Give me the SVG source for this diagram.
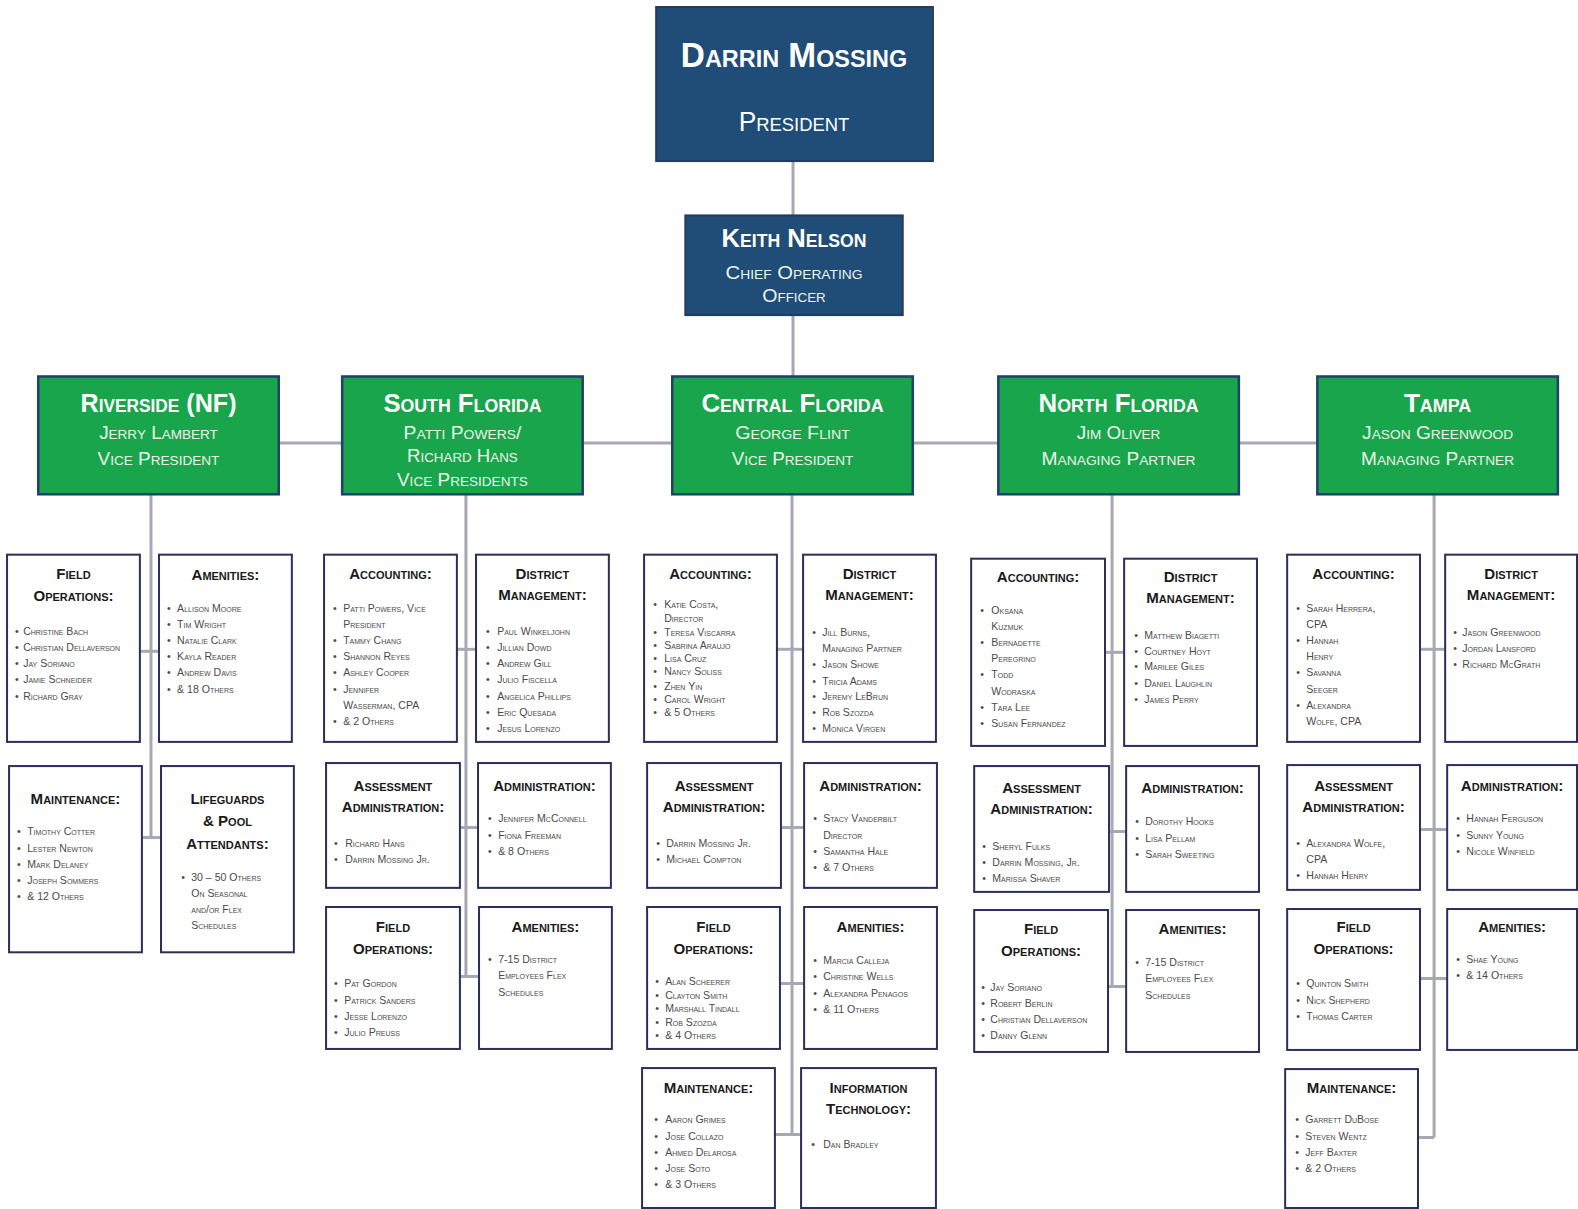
<svg xmlns="http://www.w3.org/2000/svg" width="1578" height="1209" viewBox="0 0 1578 1209">
<style>
.bg{fill:#fff}
.con line{stroke:#a8a8b4;stroke-width:3;fill:none}
.navy{fill:#1f4d78;stroke:#243a5e;stroke-width:2}
.grn{fill:#18a54b;stroke:#21406a;stroke-width:2.5}
.cb{fill:#fff;stroke:#2e2e5c;stroke-width:2}
.h{font-family:"Liberation Sans",Arial,sans-serif;font-weight:bold;font-variant:small-caps;fill:#fff;text-anchor:middle}
.s{font-family:"Liberation Sans",Arial,sans-serif;font-variant:small-caps;fill:#eef3ea;text-anchor:middle}
.t{font-family:"Liberation Sans",Arial,sans-serif;font-weight:bold;font-variant:small-caps;font-size:15px;fill:#1a1a1a;text-anchor:middle;dominant-baseline:central}
.i{font-family:"Liberation Sans",Arial,sans-serif;font-variant:small-caps;font-size:10.5px;fill:#4a4a4a;dominant-baseline:central}
</style>
<rect class="bg" x="0" y="0" width="1578" height="1209"/>
<g transform="scale(1.00638,1.00666)">
<g id="connectors" class="con">
<line x1="788" y1="160" x2="788" y2="214"/>
<line x1="788" y1="313" x2="788" y2="374"/>
<line x1="150" y1="440" x2="1425" y2="440"/>
<line x1="150" y1="491" x2="150" y2="832"/>
<line x1="139" y1="647" x2="158" y2="647"/>
<line x1="141" y1="832" x2="160" y2="832"/>
<line x1="463" y1="491" x2="463" y2="970"/>
<line x1="454" y1="645" x2="473" y2="645"/>
<line x1="457" y1="822" x2="475" y2="822"/>
<line x1="457" y1="970" x2="476" y2="970"/>
<line x1="787" y1="491" x2="787" y2="1127"/>
<line x1="772" y1="645" x2="798" y2="645"/>
<line x1="776" y1="822" x2="799" y2="822"/>
<line x1="775" y1="977" x2="799" y2="977"/>
<line x1="770" y1="1127" x2="796" y2="1127"/>
<line x1="1105" y1="491" x2="1105" y2="980"/>
<line x1="1098" y1="648" x2="1117" y2="648"/>
<line x1="1102" y1="826" x2="1119" y2="826"/>
<line x1="1101" y1="980" x2="1119" y2="980"/>
<line x1="1425" y1="491" x2="1425" y2="1130"/>
<line x1="1411" y1="645" x2="1436" y2="645"/>
<line x1="1411" y1="824" x2="1438" y2="824"/>
<line x1="1411" y1="972" x2="1438" y2="972"/>
<line x1="1409" y1="1130" x2="1425" y2="1130"/>
</g>

<g id="president">
<rect class="navy" x="652" y="7" width="275" height="153"/>
<text class="h" x="789" y="67" font-size="34" textLength="225" lengthAdjust="spacingAndGlyphs">Darrin Mossing</text>
<text class="h" x="789" y="130" font-size="27" textLength="110" lengthAdjust="spacingAndGlyphs" style="font-weight:normal">President</text>
</g>
<g id="coo">
<rect class="navy" x="681" y="214" width="216" height="99"/>
<text class="h" x="789" y="245" font-size="26" textLength="144" lengthAdjust="spacingAndGlyphs">Keith Nelson</text>
<text class="s" x="789" y="277" font-size="19" textLength="136" lengthAdjust="spacingAndGlyphs">Chief Operating</text>
<text class="s" x="789" y="300" font-size="19" textLength="63" lengthAdjust="spacingAndGlyphs">Officer</text>
</g>

<g id="riverside">
<rect class="grn" x="38" y="374" width="239" height="117"/>
<text class="h" x="157.5" y="409" font-size="26" textLength="155" lengthAdjust="spacingAndGlyphs">Riverside (NF)</text>
<text class="s" x="157.5" y="436" font-size="18" textLength="118" lengthAdjust="spacingAndGlyphs">Jerry Lambert</text>
<text class="s" x="157.5" y="462" font-size="18" textLength="121" lengthAdjust="spacingAndGlyphs">Vice President</text>
</g>
<g id="south-florida">
<rect class="grn" x="340" y="374" width="239" height="117"/>
<text class="h" x="459.5" y="409" font-size="26" textLength="157" lengthAdjust="spacingAndGlyphs">South Florida</text>
<text class="s" x="459.5" y="436" font-size="18" textLength="117" lengthAdjust="spacingAndGlyphs">Patti Powers/</text>
<text class="s" x="459.5" y="459" font-size="18" textLength="110" lengthAdjust="spacingAndGlyphs">Richard Hans</text>
<text class="s" x="459.5" y="483" font-size="18" textLength="130" lengthAdjust="spacingAndGlyphs">Vice Presidents</text>
</g>
<g id="central-florida">
<rect class="grn" x="668" y="374" width="239" height="117"/>
<text class="h" x="787.5" y="409" font-size="26" textLength="181" lengthAdjust="spacingAndGlyphs">Central Florida</text>
<text class="s" x="787.5" y="436" font-size="18" textLength="114" lengthAdjust="spacingAndGlyphs">George Flint</text>
<text class="s" x="787.5" y="462" font-size="18" textLength="121" lengthAdjust="spacingAndGlyphs">Vice President</text>
</g>
<g id="north-florida">
<rect class="grn" x="992" y="374" width="239" height="117"/>
<text class="h" x="1111.5" y="409" font-size="26" textLength="159" lengthAdjust="spacingAndGlyphs">North Florida</text>
<text class="s" x="1111.5" y="436" font-size="18" textLength="83" lengthAdjust="spacingAndGlyphs">Jim Oliver</text>
<text class="s" x="1111.5" y="462" font-size="18" textLength="153" lengthAdjust="spacingAndGlyphs">Managing Partner</text>
</g>
<g id="tampa">
<rect class="grn" x="1309" y="374" width="239" height="117"/>
<text class="h" x="1428.5" y="409" font-size="26" textLength="67" lengthAdjust="spacingAndGlyphs">Tampa</text>
<text class="s" x="1428.5" y="436" font-size="18" textLength="150" lengthAdjust="spacingAndGlyphs">Jason Greenwood</text>
<text class="s" x="1428.5" y="462" font-size="18" textLength="152" lengthAdjust="spacingAndGlyphs">Managing Partner</text>
</g>

<g id="r-field-ops">
<rect class="cb" x="7" y="551" width="132" height="186"/>
<text class="t" x="73" y="570">Field</text><text class="t" x="73" y="592">Operations:</text>
<text class="i" y="627"><tspan x="15">•</tspan><tspan x="23">Christine Bach</tspan></text>
<text class="i" y="643"><tspan x="15">•</tspan><tspan x="23">Christian Dellaverson</tspan></text>
<text class="i" y="659"><tspan x="15">•</tspan><tspan x="23">Jay Soriano</tspan></text>
<text class="i" y="675"><tspan x="15">•</tspan><tspan x="23">Jamie Schneider</tspan></text>
<text class="i" y="691"><tspan x="15">•</tspan><tspan x="23">Richard Gray</tspan></text>
</g>
<g id="r-amenities">
<rect class="cb" x="158" y="551" width="132" height="186"/>
<text class="t" x="224" y="571">Amenities:</text>
<text class="i" y="604"><tspan x="166">•</tspan><tspan x="176">Allison Moore</tspan></text>
<text class="i" y="620"><tspan x="166">•</tspan><tspan x="176">Tim Wright</tspan></text>
<text class="i" y="636"><tspan x="166">•</tspan><tspan x="176">Natalie Clark</tspan></text>
<text class="i" y="652"><tspan x="166">•</tspan><tspan x="176">Kayla Reader</tspan></text>
<text class="i" y="668"><tspan x="166">•</tspan><tspan x="176">Andrew Davis</tspan></text>
<text class="i" y="684"><tspan x="166">•</tspan><tspan x="176">&amp; 18 Others</tspan></text>
</g>
<g id="r-maintenance">
<rect class="cb" x="9" y="761" width="132" height="185"/>
<text class="t" x="75" y="793">Maintenance:</text>
<text class="i" y="826"><tspan x="17">•</tspan><tspan x="27">Timothy Cotter</tspan></text>
<text class="i" y="842"><tspan x="17">•</tspan><tspan x="27">Lester Newton</tspan></text>
<text class="i" y="858"><tspan x="17">•</tspan><tspan x="27">Mark Delaney</tspan></text>
<text class="i" y="874"><tspan x="17">•</tspan><tspan x="27">Joseph Sommers</tspan></text>
<text class="i" y="890"><tspan x="17">•</tspan><tspan x="27">&amp; 12 Others</tspan></text>
</g>
<g id="r-lifeguards">
<rect class="cb" x="160" y="761" width="132" height="185"/>
<text class="t" x="226" y="793">Lifeguards</text><text class="t" x="226" y="815">&amp; Pool</text><text class="t" x="226" y="838">Attendants:</text>
<text class="i" y="871"><tspan x="180">•</tspan><tspan x="190">30 – 50 Others</tspan></text>
<text class="i" x="190" y="887">On Seasonal</text>
<text class="i" x="190" y="903">and/or Flex</text>
<text class="i" x="190" y="919">Schedules</text>
</g>

<g id="s-accounting">
<rect class="cb" x="322" y="551" width="132" height="186"/>
<text class="t" x="388" y="570">Accounting:</text>
<text class="i" y="604"><tspan x="331">•</tspan><tspan x="341">Patti Powers, Vice</tspan></text>
<text class="i" x="341" y="620">President</text>
<text class="i" y="636"><tspan x="331">•</tspan><tspan x="341">Tammy Chang</tspan></text>
<text class="i" y="652"><tspan x="331">•</tspan><tspan x="341">Shannon Reyes</tspan></text>
<text class="i" y="668"><tspan x="331">•</tspan><tspan x="341">Ashley Cooper</tspan></text>
<text class="i" y="684"><tspan x="331">•</tspan><tspan x="341">Jennifer</tspan></text>
<text class="i" x="341" y="700">Wasserman, CPA</text>
<text class="i" y="716"><tspan x="331">•</tspan><tspan x="341">&amp; 2 Others</tspan></text>
</g>
<g id="s-district">
<rect class="cb" x="473" y="551" width="132" height="186"/>
<text class="t" x="539" y="570">District</text><text class="t" x="539" y="591">Management:</text>
<text class="i" y="627"><tspan x="483">•</tspan><tspan x="494">Paul Winkeljohn</tspan></text>
<text class="i" y="643"><tspan x="483">•</tspan><tspan x="494">Jillian Dowd</tspan></text>
<text class="i" y="659"><tspan x="483">•</tspan><tspan x="494">Andrew Gill</tspan></text>
<text class="i" y="675"><tspan x="483">•</tspan><tspan x="494">Julio Fiscella</tspan></text>
<text class="i" y="691"><tspan x="483">•</tspan><tspan x="494">Angelica Phillips</tspan></text>
<text class="i" y="707"><tspan x="483">•</tspan><tspan x="494">Eric Quesada</tspan></text>
<text class="i" y="723"><tspan x="483">•</tspan><tspan x="494">Jesus Lorenzo</tspan></text>
</g>
<g id="s-assessment">
<rect class="cb" x="324" y="758" width="133" height="124"/>
<text class="t" x="390.5" y="780">Assessment</text><text class="t" x="390.5" y="801">Administration:</text>
<text class="i" y="837"><tspan x="332">•</tspan><tspan x="343">Richard Hans</tspan></text>
<text class="i" y="853"><tspan x="332">•</tspan><tspan x="343">Darrin Mossing Jr.</tspan></text>
</g>
<g id="s-administration">
<rect class="cb" x="475" y="758" width="132" height="124"/>
<text class="t" x="541" y="780">Administration:</text>
<text class="i" y="813"><tspan x="485">•</tspan><tspan x="495">Jennifer McConnell</tspan></text>
<text class="i" y="829"><tspan x="485">•</tspan><tspan x="495">Fiona Freeman</tspan></text>
<text class="i" y="845"><tspan x="485">•</tspan><tspan x="495">&amp; 8 Others</tspan></text>
</g>
<g id="s-field-ops">
<rect class="cb" x="324" y="901" width="133" height="141"/>
<text class="t" x="390.5" y="920">Field</text><text class="t" x="390.5" y="942">Operations:</text>
<text class="i" y="977"><tspan x="332">•</tspan><tspan x="342">Pat Gordon</tspan></text>
<text class="i" y="993"><tspan x="332">•</tspan><tspan x="342">Patrick Sanders</tspan></text>
<text class="i" y="1009"><tspan x="332">•</tspan><tspan x="342">Jesse Lorenzo</tspan></text>
<text class="i" y="1025"><tspan x="332">•</tspan><tspan x="342">Julio Preuss</tspan></text>
</g>
<g id="s-amenities">
<rect class="cb" x="476" y="901" width="132" height="141"/>
<text class="t" x="542" y="920">Amenities:</text>
<text class="i" y="953"><tspan x="485">•</tspan><tspan x="495">7-15 District</tspan></text>
<text class="i" x="495" y="969">Employees Flex</text>
<text class="i" x="495" y="985">Schedules</text>
</g>

<g id="c-accounting">
<rect class="cb" x="640" y="551" width="132" height="186"/>
<text class="t" x="706" y="570">Accounting:</text>
<text class="i" y="600"><tspan x="649">•</tspan><tspan x="660">Katie Costa,</tspan></text>
<text class="i" x="660" y="614">Director</text>
<text class="i" y="628"><tspan x="649">•</tspan><tspan x="660">Teresa Viscarra</tspan></text>
<text class="i" y="641"><tspan x="649">•</tspan><tspan x="660">Sabrina Araujo</tspan></text>
<text class="i" y="654"><tspan x="649">•</tspan><tspan x="660">Lisa Cruz</tspan></text>
<text class="i" y="667"><tspan x="649">•</tspan><tspan x="660">Nancy Soliss</tspan></text>
<text class="i" y="681"><tspan x="649">•</tspan><tspan x="660">Zhen Yin</tspan></text>
<text class="i" y="694"><tspan x="649">•</tspan><tspan x="660">Carol Wright</tspan></text>
<text class="i" y="707"><tspan x="649">•</tspan><tspan x="660">&amp; 5 Others</tspan></text>
</g>
<g id="c-district">
<rect class="cb" x="798" y="551" width="132" height="186"/>
<text class="t" x="864" y="570">District</text><text class="t" x="864" y="591">Management:</text>
<text class="i" y="628"><tspan x="807">•</tspan><tspan x="817">Jill Burns,</tspan></text>
<text class="i" x="817" y="644">Managing Partner</text>
<text class="i" y="660"><tspan x="807">•</tspan><tspan x="817">Jason Showe</tspan></text>
<text class="i" y="676"><tspan x="807">•</tspan><tspan x="817">Tricia Adams</tspan></text>
<text class="i" y="691"><tspan x="807">•</tspan><tspan x="817">Jeremy LeBrun</tspan></text>
<text class="i" y="707"><tspan x="807">•</tspan><tspan x="817">Rob Szozda</tspan></text>
<text class="i" y="723"><tspan x="807">•</tspan><tspan x="817">Monica Virgen</tspan></text>
</g>
<g id="c-assessment">
<rect class="cb" x="643" y="758" width="133" height="124"/>
<text class="t" x="709.5" y="780">Assessment</text><text class="t" x="709.5" y="801">Administration:</text>
<text class="i" y="837"><tspan x="652">•</tspan><tspan x="662">Darrin Mossing Jr.</tspan></text>
<text class="i" y="853"><tspan x="652">•</tspan><tspan x="662">Michael Compton</tspan></text>
</g>
<g id="c-administration">
<rect class="cb" x="799" y="758" width="132" height="124"/>
<text class="t" x="865" y="780">Administration:</text>
<text class="i" y="813"><tspan x="808">•</tspan><tspan x="818">Stacy Vanderbilt</tspan></text>
<text class="i" x="818" y="829">Director</text>
<text class="i" y="845"><tspan x="808">•</tspan><tspan x="818">Samantha Hale</tspan></text>
<text class="i" y="861"><tspan x="808">•</tspan><tspan x="818">&amp; 7 Others</tspan></text>
</g>
<g id="c-field-ops">
<rect class="cb" x="643" y="901" width="132" height="141"/>
<text class="t" x="709" y="920">Field</text><text class="t" x="709" y="942">Operations:</text>
<text class="i" y="975"><tspan x="651">•</tspan><tspan x="661">Alan Scheerer</tspan></text>
<text class="i" y="988"><tspan x="651">•</tspan><tspan x="661">Clayton Smith</tspan></text>
<text class="i" y="1001"><tspan x="651">•</tspan><tspan x="661">Marshall Tindall</tspan></text>
<text class="i" y="1015"><tspan x="651">•</tspan><tspan x="661">Rob Szozda</tspan></text>
<text class="i" y="1028"><tspan x="651">•</tspan><tspan x="661">&amp; 4 Others</tspan></text>
</g>
<g id="c-amenities">
<rect class="cb" x="799" y="901" width="132" height="141"/>
<text class="t" x="865" y="920">Amenities:</text>
<text class="i" y="954"><tspan x="808">•</tspan><tspan x="818">Marcia Calleja</tspan></text>
<text class="i" y="970"><tspan x="808">•</tspan><tspan x="818">Christine Wells</tspan></text>
<text class="i" y="986"><tspan x="808">•</tspan><tspan x="818">Alexandra Penagos</tspan></text>
<text class="i" y="1002"><tspan x="808">•</tspan><tspan x="818">&amp; 11 Others</tspan></text>
</g>
<g id="c-maintenance">
<rect class="cb" x="638" y="1061" width="132" height="139"/>
<text class="t" x="704" y="1080">Maintenance:</text>
<text class="i" y="1112"><tspan x="650">•</tspan><tspan x="661">Aaron Grimes</tspan></text>
<text class="i" y="1128"><tspan x="650">•</tspan><tspan x="661">Jose Collazo</tspan></text>
<text class="i" y="1144"><tspan x="650">•</tspan><tspan x="661">Ahmed Delarosa</tspan></text>
<text class="i" y="1160"><tspan x="650">•</tspan><tspan x="661">Jose Soto</tspan></text>
<text class="i" y="1176"><tspan x="650">•</tspan><tspan x="661">&amp; 3 Others</tspan></text>
</g>
<g id="c-it">
<rect class="cb" x="796" y="1061" width="134" height="139"/>
<text class="t" x="863" y="1080">Information</text><text class="t" x="863" y="1101">Technology:</text>
<text class="i" y="1136"><tspan x="806">•</tspan><tspan x="818">Dan Bradley</tspan></text>
</g>

<g id="n-accounting">
<rect class="cb" x="965" y="555" width="133" height="186"/>
<text class="t" x="1031.5" y="573">Accounting:</text>
<text class="i" y="606"><tspan x="974">•</tspan><tspan x="985">Oksana</tspan></text>
<text class="i" x="985" y="622">Kuzmuk</text>
<text class="i" y="638"><tspan x="974">•</tspan><tspan x="985">Bernadette</tspan></text>
<text class="i" x="985" y="654">Peregrino</text>
<text class="i" y="670"><tspan x="974">•</tspan><tspan x="985">Todd</tspan></text>
<text class="i" x="985" y="686">Wodraska</text>
<text class="i" y="702"><tspan x="974">•</tspan><tspan x="985">Tara Lee</tspan></text>
<text class="i" y="718"><tspan x="974">•</tspan><tspan x="985">Susan Fernandez</tspan></text>
</g>
<g id="n-district">
<rect class="cb" x="1117" y="555" width="132" height="186"/>
<text class="t" x="1183" y="573">District</text><text class="t" x="1183" y="594">Management:</text>
<text class="i" y="631"><tspan x="1127">•</tspan><tspan x="1137">Matthew Biagetti</tspan></text>
<text class="i" y="647"><tspan x="1127">•</tspan><tspan x="1137">Courtney Hoyt</tspan></text>
<text class="i" y="662"><tspan x="1127">•</tspan><tspan x="1137">Marilee Giles</tspan></text>
<text class="i" y="678"><tspan x="1127">•</tspan><tspan x="1137">Daniel Laughlin</tspan></text>
<text class="i" y="694"><tspan x="1127">•</tspan><tspan x="1137">James Perry</tspan></text>
</g>
<g id="n-assessment">
<rect class="cb" x="968" y="761" width="134" height="125"/>
<text class="t" x="1035" y="782">Assessment</text><text class="t" x="1035" y="803">Administration:</text>
<text class="i" y="840"><tspan x="976">•</tspan><tspan x="986">Sheryl Fulks</tspan></text>
<text class="i" y="856"><tspan x="976">•</tspan><tspan x="986">Darrin Mossing, Jr.</tspan></text>
<text class="i" y="872"><tspan x="976">•</tspan><tspan x="986">Marissa Shaver</tspan></text>
</g>
<g id="n-administration">
<rect class="cb" x="1119" y="761" width="132" height="125"/>
<text class="t" x="1185" y="782">Administration:</text>
<text class="i" y="816"><tspan x="1128">•</tspan><tspan x="1138">Dorothy Hooks</tspan></text>
<text class="i" y="832"><tspan x="1128">•</tspan><tspan x="1138">Lisa Pellam</tspan></text>
<text class="i" y="848"><tspan x="1128">•</tspan><tspan x="1138">Sarah Sweeting</tspan></text>
</g>
<g id="n-field-ops">
<rect class="cb" x="968" y="904" width="133" height="141"/>
<text class="t" x="1034.5" y="922">Field</text><text class="t" x="1034.5" y="944">Operations:</text>
<text class="i" y="980"><tspan x="975">•</tspan><tspan x="984">Jay Soriano</tspan></text>
<text class="i" y="996"><tspan x="975">•</tspan><tspan x="984">Robert Berlin</tspan></text>
<text class="i" y="1012"><tspan x="975">•</tspan><tspan x="984">Christian Dellaverson</tspan></text>
<text class="i" y="1028"><tspan x="975">•</tspan><tspan x="984">Danny Glenn</tspan></text>
</g>
<g id="n-amenities">
<rect class="cb" x="1119" y="904" width="132" height="141"/>
<text class="t" x="1185" y="922">Amenities:</text>
<text class="i" y="956"><tspan x="1128">•</tspan><tspan x="1138">7-15 District</tspan></text>
<text class="i" x="1138" y="972">Employees Flex</text>
<text class="i" x="1138" y="988">Schedules</text>
</g>

<g id="t-accounting">
<rect class="cb" x="1279" y="551" width="132" height="186"/>
<text class="t" x="1345" y="570">Accounting:</text>
<text class="i" y="604"><tspan x="1288">•</tspan><tspan x="1298">Sarah Herrera,</tspan></text>
<text class="i" x="1298" y="620">CPA</text>
<text class="i" y="636"><tspan x="1288">•</tspan><tspan x="1298">Hannah</tspan></text>
<text class="i" x="1298" y="652">Henry</text>
<text class="i" y="668"><tspan x="1288">•</tspan><tspan x="1298">Savanna</tspan></text>
<text class="i" x="1298" y="684">Seeger</text>
<text class="i" y="700"><tspan x="1288">•</tspan><tspan x="1298">Alexandra</tspan></text>
<text class="i" x="1298" y="716">Wolfe, CPA</text>
</g>
<g id="t-district">
<rect class="cb" x="1436" y="551" width="131" height="186"/>
<text class="t" x="1501.5" y="570">District</text><text class="t" x="1501.5" y="591">Management:</text>
<text class="i" y="628"><tspan x="1444">•</tspan><tspan x="1453">Jason Greenwood</tspan></text>
<text class="i" y="644"><tspan x="1444">•</tspan><tspan x="1453">Jordan Lansford</tspan></text>
<text class="i" y="660"><tspan x="1444">•</tspan><tspan x="1453">Richard McGrath</tspan></text>
</g>
<g id="t-assessment">
<rect class="cb" x="1279" y="760" width="132" height="124"/>
<text class="t" x="1345" y="780">Assessment</text><text class="t" x="1345" y="801">Administration:</text>
<text class="i" y="837"><tspan x="1288">•</tspan><tspan x="1298">Alexandra Wolfe,</tspan></text>
<text class="i" x="1298" y="853">CPA</text>
<text class="i" y="869"><tspan x="1288">•</tspan><tspan x="1298">Hannah Henry</tspan></text>
</g>
<g id="t-administration">
<rect class="cb" x="1438" y="760" width="129" height="124"/>
<text class="t" x="1502.5" y="780">Administration:</text>
<text class="i" y="813"><tspan x="1447">•</tspan><tspan x="1457">Hannah Ferguson</tspan></text>
<text class="i" y="829"><tspan x="1447">•</tspan><tspan x="1457">Sunny Young</tspan></text>
<text class="i" y="845"><tspan x="1447">•</tspan><tspan x="1457">Nicole Winfield</tspan></text>
</g>
<g id="t-field-ops">
<rect class="cb" x="1279" y="903" width="132" height="140"/>
<text class="t" x="1345" y="920">Field</text><text class="t" x="1345" y="942">Operations:</text>
<text class="i" y="977"><tspan x="1288">•</tspan><tspan x="1298">Quinton Smith</tspan></text>
<text class="i" y="993"><tspan x="1288">•</tspan><tspan x="1298">Nick Shepherd</tspan></text>
<text class="i" y="1009"><tspan x="1288">•</tspan><tspan x="1298">Thomas Carter</tspan></text>
</g>
<g id="t-amenities">
<rect class="cb" x="1438" y="903" width="129" height="140"/>
<text class="t" x="1502.5" y="920">Amenities:</text>
<text class="i" y="953"><tspan x="1447">•</tspan><tspan x="1457">Shae Young</tspan></text>
<text class="i" y="969"><tspan x="1447">•</tspan><tspan x="1457">&amp; 14 Others</tspan></text>
</g>
<g id="t-maintenance">
<rect class="cb" x="1277" y="1062" width="132" height="138"/>
<text class="t" x="1343" y="1080">Maintenance:</text>
<text class="i" y="1112"><tspan x="1287">•</tspan><tspan x="1297">Garrett DuBose</tspan></text>
<text class="i" y="1128"><tspan x="1287">•</tspan><tspan x="1297">Steven Wentz</tspan></text>
<text class="i" y="1144"><tspan x="1287">•</tspan><tspan x="1297">Jeff Baxter</tspan></text>
<text class="i" y="1160"><tspan x="1287">•</tspan><tspan x="1297">&amp; 2 Others</tspan></text>
</g>
</g>
</svg>
